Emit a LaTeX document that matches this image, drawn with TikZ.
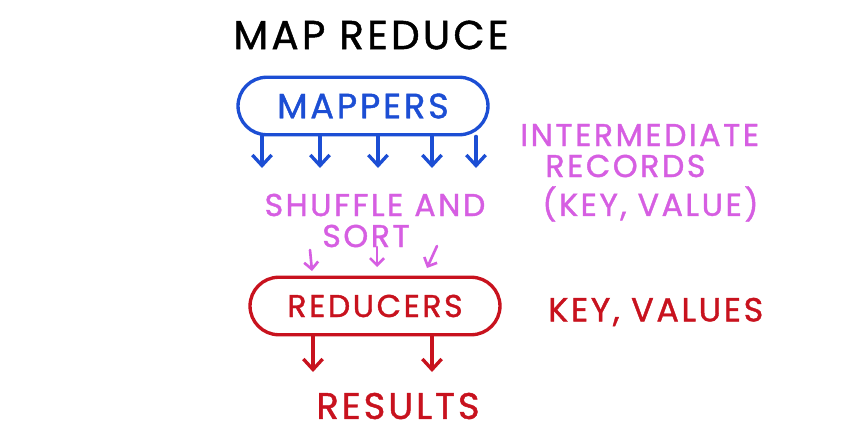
\documentclass[tikz,border=0pt]{standalone}
\usepackage{fontspec}
\setmainfont{Poppins}
\newfontfamily\handfont[LetterSpace=8, FakeBold=1.2]{Poppins}
\usetikzlibrary{positioning,shapes.misc,arrows.meta}
\definecolor{penblue}{RGB}{28,78,212}
\definecolor{penpink}{RGB}{214,94,226}
\definecolor{penred}{RGB}{200,18,30}
\tikzset{
	hand/.style={font=\handfont\fontsize{#1}{#1}\selectfont, inner sep=0pt},
	blob/.style={rounded rectangle, draw, line width=1.9pt, minimum width=5cm, minimum height=1.15cm},
	pen/.style={line width=1.9pt, line cap=round, -{Straight Barb[length=6pt,width=11pt]}},
	thinpen/.style={line width=1.5pt, line cap=round, -{Straight Barb[length=4pt,width=8pt]}}
}
\begin{document}
\begin{tikzpicture}[x=0.02cm, y=-0.02cm]
	\useasboundingbox[fill=white] (0,0) rectangle (842,439);

	\node[hand=23] (title) at (371,35) {MAP REDUCE};

	\node[blob, penblue, hand=20] (mappers) at (363,106) {MAPPERS};
	\foreach \x [count=\i] in {262,320,378,432,476} {
		\coordinate (m\i) at (\x,168);
		\draw[pen, penblue] (mappers.south -| m\i) -- (m\i);
	}

	\node[hand=18, penpink] (shuffle) at (375,205) {SHUFFLE AND};
	\node[hand=18, penpink] (sort) at (366,236) {SORT};

	\coordinate (s1) at (310,250);
	\coordinate (s2) at (377,247);
	\coordinate (s3) at (437,246);
	\coordinate (t1) at (312,271);
	\coordinate (t2) at (377,267);
	\coordinate (t3) at (427,268);
	\foreach \i in {1,2,3} {\draw[thinpen, penpink] (s\i) -- (t\i);}

	\node[blob, penred, hand=18] (reducers) at (375,306) {REDUCERS};
	\foreach \x [count=\i] in {313,432} {
		\coordinate (r\i) at (\x,372);
		\draw[pen, penred] (reducers.south -| r\i) -- (r\i);
	}
	\node[hand=21, penred] (results) at (398,406) {RESULTS};

	\node[hand=18, penpink, anchor=west] (inter) at (520,135) {INTERMEDIATE};
	\node[hand=18, penpink, anchor=west] (records) at (545,166) {RECORDS};
	\node[hand=18, penpink, anchor=west] (kv) at (542,204) {(KEY, VALUE)};

	\node[hand=19, penred, anchor=west] (kvs) at (548,312) {KEY, VALUES};
\end{tikzpicture}
\end{document}
